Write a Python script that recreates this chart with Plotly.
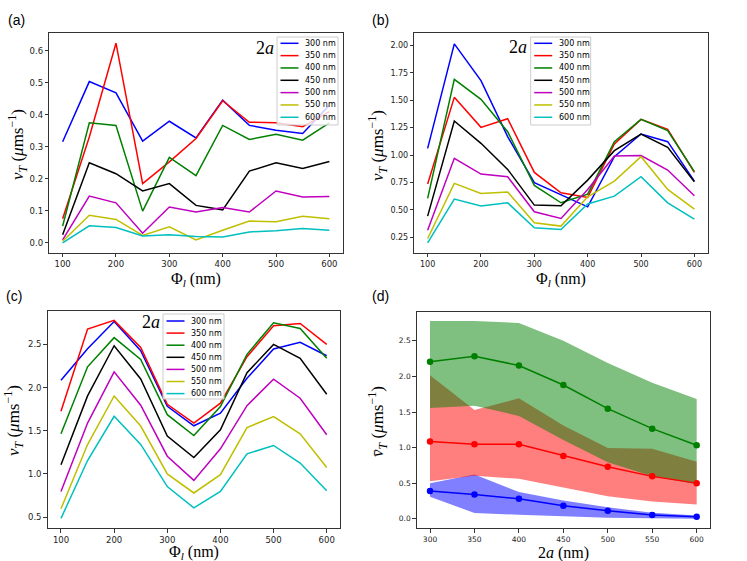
import plotly.graph_objects as go

W, H = 747, 561

# ---------------- data ----------------
phi = [100, 150, 200, 250, 300, 350, 400, 450, 500, 550, 600]
size_labels = ["300 nm", "350 nm", "400 nm", "450 nm", "500 nm", "550 nm", "600 nm"]

# panel (a)
a_300 = [0.316, 0.504, 0.469, 0.318, 0.380, 0.328, 0.446, 0.367, 0.352, 0.342, 0.430]
a_350 = [0.075, 0.331, 0.624, 0.185, 0.253, 0.326, 0.444, 0.377, 0.375, 0.363, 0.410]
a_400 = [0.052, 0.375, 0.367, 0.099, 0.267, 0.210, 0.367, 0.323, 0.339, 0.321, 0.375]
a_450 = [0.025, 0.250, 0.216, 0.162, 0.185, 0.117, 0.103, 0.224, 0.250, 0.232, 0.254]
a_500 = [0.009, 0.146, 0.125, 0.030, 0.112, 0.096, 0.110, 0.096, 0.162, 0.143, 0.145]
a_550 = [0.005, 0.086, 0.073, 0.023, 0.050, 0.009, 0.039, 0.068, 0.066, 0.083, 0.075]
a_600 = [0.000, 0.053, 0.048, 0.021, 0.025, 0.020, 0.018, 0.034, 0.038, 0.045, 0.039]

# panel (b)
b_300 = [1.061, 2.015, 1.680, 1.168, 0.747, 0.640, 0.527, 0.985, 1.192, 1.122, 0.762]
b_350 = [0.735, 1.527, 1.253, 1.332, 0.841, 0.655, 0.613, 1.101, 1.326, 1.235, 0.841]
b_400 = [0.604, 1.692, 1.509, 1.213, 0.723, 0.564, 0.643, 1.122, 1.326, 1.223, 0.848]
b_450 = [0.442, 1.311, 1.107, 0.869, 0.543, 0.537, 0.771, 1.040, 1.192, 1.070, 0.756]
b_500 = [0.314, 0.970, 0.826, 0.802, 0.482, 0.421, 0.686, 0.991, 0.995, 0.863, 0.628]
b_550 = [0.238, 0.741, 0.649, 0.662, 0.381, 0.351, 0.619, 0.762, 0.985, 0.686, 0.506]
b_600 = [0.198, 0.598, 0.534, 0.564, 0.335, 0.320, 0.553, 0.625, 0.802, 0.564, 0.415]

# panel (c)
c_300 = [2.085, 2.450, 2.765, 2.426, 1.783, 1.557, 1.703, 2.107, 2.446, 2.523, 2.368]
c_350 = [1.725, 2.678, 2.778, 2.465, 1.806, 1.588, 1.819, 2.357, 2.715, 2.742, 2.500]
c_400 = [1.465, 2.240, 2.578, 2.326, 1.686, 1.445, 1.780, 2.385, 2.750, 2.685, 2.338]
c_450 = [1.105, 1.903, 2.484, 2.100, 1.438, 1.190, 1.510, 2.172, 2.500, 2.338, 1.923]
c_500 = [0.795, 1.589, 2.182, 1.795, 1.205, 0.925, 1.291, 1.791, 2.096, 1.876, 1.453]
c_550 = [0.597, 1.340, 1.903, 1.554, 1.000, 0.779, 0.991, 1.537, 1.664, 1.464, 1.075]
c_600 = [0.485, 1.155, 1.667, 1.341, 0.853, 0.606, 0.798, 1.233, 1.329, 1.126, 0.806]

# panel (d)
two_a = [300, 350, 400, 450, 500, 550, 600]
d_blue_mean = [0.388, 0.341, 0.280, 0.182, 0.112, 0.051, 0.028]
d_blue_lo = [0.310, 0.080, 0.055, 0.030, 0.012, 0.006, 0.000]
d_blue_hi = [0.500, 0.620, 0.375, 0.257, 0.160, 0.083, 0.045]
d_red_mean = [1.084, 1.047, 1.047, 0.883, 0.729, 0.595, 0.500]
d_red_lo = [0.525, 0.605, 0.560, 0.442, 0.315, 0.242, 0.198]
d_red_hi = [2.015, 1.527, 1.692, 1.311, 0.995, 0.985, 0.802]
d_green_mean = [2.206, 2.285, 2.154, 1.879, 1.547, 1.266, 1.033]
d_green_lo = [1.557, 1.588, 1.445, 1.105, 0.795, 0.597, 0.485]
d_green_hi = [2.780, 2.780, 2.752, 2.500, 2.190, 1.910, 1.682]

# ---------------- style ----------------
line_colors = ["#0000ff", "#ff0000", "#008000", "#000000", "#bf00bf", "#bfbf00", "#00bfbf"]
SANS = "DejaVu Sans"
SERIF = "Liberation Serif"


def px(x, y):
    return x / W, 1 - y / H


fig = go.Figure()

panels = [
    ([a_300, a_350, a_400, a_450, a_500, a_550, a_600], "x", "y"),
    ([b_300, b_350, b_400, b_450, b_500, b_550, b_600], "x2", "y2"),
    ([c_300, c_350, c_400, c_450, c_500, c_550, c_600], "x3", "y3"),
]
for series, xa_, ya_ in panels:
    for s, name, col in zip(series, size_labels, line_colors):
        fig.add_trace(go.Scatter(x=phi, y=s, mode="lines", name=name,
                                 line=dict(color=col, width=1.5),
                                 xaxis=xa_, yaxis=ya_, showlegend=False))

bands = [
    (d_blue_lo, d_blue_hi, "rgba(0,0,255,0.5)"),
    (d_red_lo, d_red_hi, "rgba(255,0,0,0.5)"),
    (d_green_lo, d_green_hi, "rgba(0,128,0,0.5)"),
]
for lo, hi, fc in bands:
    fig.add_trace(go.Scatter(x=two_a, y=lo, mode="lines", line=dict(width=0, color=fc),
                             showlegend=False, xaxis="x4", yaxis="y4", hoverinfo="skip"))
    fig.add_trace(go.Scatter(x=two_a, y=hi, mode="lines", line=dict(width=0, color=fc),
                             fill="tonexty", fillcolor=fc,
                             showlegend=False, xaxis="x4", yaxis="y4", hoverinfo="skip"))
for m, col in [(d_blue_mean, "#0000ff"), (d_red_mean, "#ff0000"), (d_green_mean, "#008000")]:
    fig.add_trace(go.Scatter(x=two_a, y=m, mode="lines+markers",
                             line=dict(color=col, width=1.5),
                             marker=dict(color=col, size=6.5),
                             showlegend=False, xaxis="x4", yaxis="y4"))


def ax(domain, rng, dtick, fmt, fsize, anchor, tick0=None):
    d = dict(domain=domain, range=rng, dtick=dtick, tickformat=fmt,
             showline=True, mirror=True, linecolor="#333333", linewidth=1,
             ticks="outside", ticklen=3.5, tickwidth=1, tickcolor="#333333",
             showgrid=False, zeroline=False, anchor=anchor,
             tickfont=dict(family=SANS, size=fsize, color="#222222"))
    if tick0 is not None:
        d["tick0"] = tick0
    return d


# plot-area pixel boxes: (left, right, top, bottom)
boxA = (49.3, 342.7, 33.3, 252.7)
boxB = (414.3, 707.7, 33.3, 252.7)
boxC = (47.7, 340.0, 310.7, 528.3)
boxD = (416.7, 710.0, 311.7, 528.3)


def dom(box):
    l, r, t, b = box
    return [l / W, r / W], [1 - b / H, 1 - t / H]


xa, ya = dom(boxA)
xb, yb = dom(boxB)
xc, yc = dom(boxC)
xd, yd = dom(boxD)

fig.update_layout(
    width=W, height=H, autosize=False,
    margin=dict(l=0, r=0, t=0, b=0, pad=0, autoexpand=False),
    paper_bgcolor="white", plot_bgcolor="white",
    showlegend=False,
    xaxis=ax(xa, [75, 625], 100, "d", 8.5, "y", 100),
    yaxis=ax(ya, [-0.031, 0.655], 0.1, ".1f", 8.5, "x", 0),
    xaxis2=ax(xb, [75, 625], 100, "d", 8, "y2", 100),
    yaxis2=ax(yb, [0.108, 2.112], 0.25, ".2f", 8, "x2", 0),
    xaxis3=ax(xc, [75, 625], 100, "d", 8.5, "y3", 100),
    yaxis3=ax(yc, [0.37, 2.89], 0.5, ".1f", 8.5, "x3", 0),
    xaxis4=ax(xd, [285, 615], 50, "d", 7.5, "y4", 300),
    yaxis4=ax(yd, [-0.135, 2.91], 0.5, ".1f", 7.5, "x4", 0),
)

ann = []
shapes = []


def add_text(x, y, text, size, family, angle=0, xanchor="center"):
    X, Y = px(x, y)
    ann.append(dict(x=X, y=Y, xref="paper", yref="paper", text=text, showarrow=False,
                    xanchor=xanchor, yanchor="middle", textangle=angle,
                    font=dict(family=family, size=size, color="black")))


# compact legends (one per line panel), matplotlib-style
def add_legend(left, top, width, height, row0, step):
    x0, y0 = px(left, top)
    x1, y1 = px(left + width, top + height)
    shapes.append(dict(type="rect", xref="paper", yref="paper", x0=x0, y0=y1, x1=x1, y1=y0,
                       fillcolor="rgba(255,255,255,0.8)", line=dict(color="#cccccc", width=1),
                       layer="above"))
    for i, (name, col) in enumerate(zip(size_labels, line_colors)):
        yy = top + row0 + i * step
        lx0, ly = px(left + 3.5, yy)
        lx1, _ = px(left + 21.5, yy)
        shapes.append(dict(type="line", xref="paper", yref="paper", x0=lx0, x1=lx1, y0=ly, y1=ly,
                           line=dict(color=col, width=1.5), layer="above"))
        add_text(left + 26, yy, name, 8, SANS, xanchor="left")


add_legend(277, 37, 61, 88, 6.3, 12.33)
add_legend(530.7, 37, 60, 88, 6.3, 12.33)
add_legend(163, 314, 61, 85, 7.0, 12.1)

# panel letters
add_text(16.5, 20, "(a)", 14, "Liberation Sans")
add_text(380, 20, "(b)", 14, "Liberation Sans")
add_text(14.5, 296, "(c)", 14, "Liberation Sans")
add_text(380, 296, "(d)", 14, "Liberation Sans")

# 2a labels
add_text(265, 48, "2<i>a</i>", 18, SERIF)
add_text(518, 47, "2<i>a</i>", 18, SERIF)
add_text(151, 322, "2<i>a</i>", 18, SERIF)

# axis titles
vt = "<i>v</i><sub><i>T</i></sub> (<i>μ</i>ms<sup>−1</sup>)"
vtbar = "<i>v\u0304</i><sub><i>T</i></sub> (<i>μ</i>ms<sup>−1</sup>)"
phil = "Φ<sub><i>l</i></sub> (nm)"
add_text(17, 145, vt, 17, SERIF, -90)
add_text(377, 145, vt, 17, SERIF, -90)
add_text(13, 421, vt, 17, SERIF, -90)
add_text(377, 421, vtbar, 17, SERIF, -90)
add_text(196, 279, phil, 16, SERIF)
add_text(561, 279, phil, 16, SERIF)
add_text(194, 552.5, phil, 16, SERIF)
add_text(563, 552.5, "2<i>a</i> (nm)", 16, SERIF)

fig.update_layout(annotations=ann, shapes=shapes)

fig.write_html("out.html", config={"displayModeBar": False},
               post_script="document.body.style.margin='0px';document.body.style.overflow='hidden';")
